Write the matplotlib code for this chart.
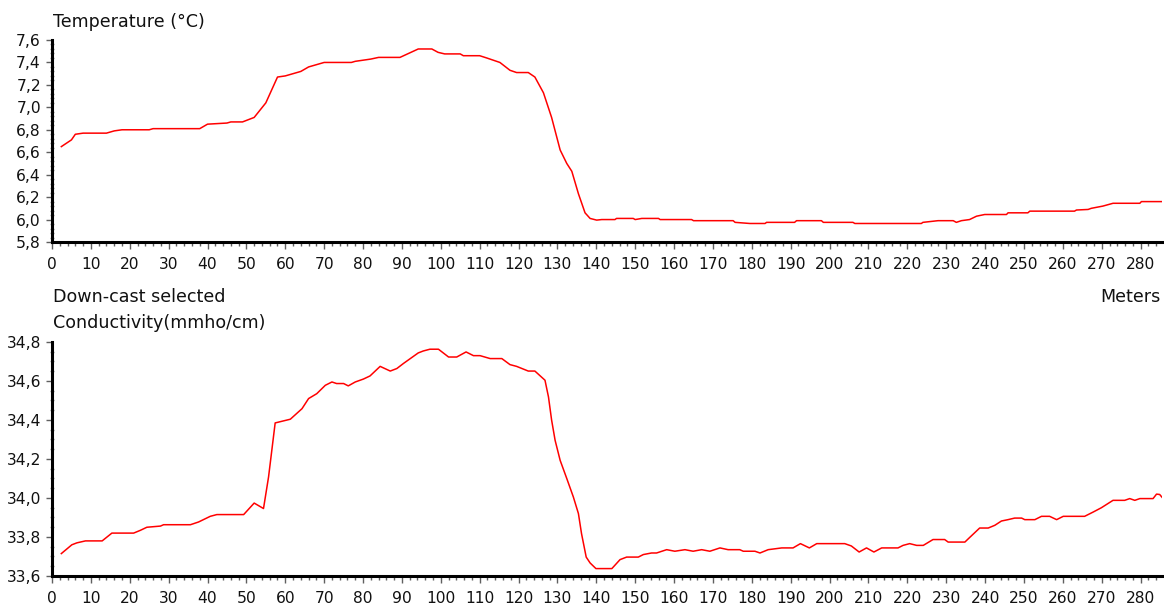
import matplotlib
matplotlib.use("Agg")
import matplotlib.pyplot as plt
from matplotlib.ticker import MultipleLocator, FuncFormatter

plt.rcParams['font.family'] = ['DejaVu Sans']

# ---- data ----
temp_depth = [2.4, 5, 6, 8, 14, 16, 18, 25, 26, 38, 40, 45, 46, 49, 52, 55, 58, 60, 62, 64,
              66, 68, 70, 77, 78, 80, 82, 84, 89.5, 94.2, 97.7, 99.3, 101, 105, 105.8, 110,
              111.8, 115.2, 117.8, 119.5, 122.5, 124.2, 126.4, 128.5, 130.7, 132.4, 133.7,
              135.4, 137.1, 138.4, 140.1, 141.4, 144.8, 145.2, 149.5, 150, 151.7, 156, 156.4,
              164.5, 165, 175.2, 175.7, 179.5, 183.4, 183.8, 191, 191.5, 197.9, 198.4, 206,
              206.5, 223.6, 224, 227.9, 231.8, 232.6, 233.9, 236, 237.8, 239.9, 245.5, 245.9,
              251, 251.5, 263, 263.5, 266.5, 267.3, 270.3, 272.9, 279.8, 280.2, 285.3]
temperature = [6.65, 6.71, 6.76, 6.77, 6.77, 6.79, 6.80, 6.80, 6.81, 6.81, 6.85, 6.86, 6.87,
               6.87, 6.91, 7.04, 7.27, 7.28, 7.30, 7.32, 7.36, 7.38, 7.40, 7.40, 7.41, 7.42,
               7.43, 7.445, 7.445, 7.52, 7.52, 7.49, 7.476, 7.476, 7.46, 7.46, 7.44, 7.40,
               7.33, 7.31, 7.31, 7.27, 7.13, 6.91, 6.62, 6.50, 6.43, 6.23, 6.06, 6.01, 5.995,
               6.00, 6.00, 6.01, 6.01, 6.00, 6.01, 6.01, 6.00, 6.00, 5.99, 5.99, 5.975, 5.965,
               5.965, 5.975, 5.975, 5.99, 5.99, 5.975, 5.975, 5.965, 5.965, 5.975, 5.99, 5.99,
               5.975, 5.99, 6.00, 6.03, 6.045, 6.045, 6.06, 6.06, 6.075, 6.075, 6.085, 6.09,
               6.10, 6.12, 6.145, 6.145, 6.16, 6.16]

cond_depth = [2.4, 5.1, 6.4, 8.6, 12.9, 15.4, 21, 22.7, 24.4, 27.9, 28.7, 35.6, 37.7, 40.7,
              42.4, 49.3, 52, 54.4, 55.7, 57.4, 59.5, 61.3, 64.3, 66, 68.1, 70.3, 72, 73.2,
              75, 76.2, 78, 80.1, 81.8, 84.4, 87, 88.7, 90.4, 92.5, 94.2, 95.5, 97.2, 99.4,
              102, 104.1, 106.5, 108.4, 110.1, 112.7, 115.7, 117.8, 119.5, 122.5, 124.2,
              126.8, 127.7, 128.5, 129.4, 130.7, 132.4, 134.1, 135.4, 136.2, 137.4, 138.4,
              139.9, 144, 146.1, 147.8, 150.8, 152.1, 154.2, 155.5, 158.1, 160.2, 162.8,
              164.9, 167.1, 169.2, 171.8, 173.9, 176.9, 177.8, 180.8, 182.1, 184.2, 187.7,
              190.6, 192.5, 194.8, 196.7, 203.9, 205.6, 207.6, 209.5, 211.4, 213.4, 217.6,
              218.9, 220.6, 222.4, 224.1, 226.6, 229.6, 230.5, 234.8, 236, 238.6, 240.8,
              242.5, 244.2, 245.9, 247.6, 249.4, 250.2, 252.8, 254.5, 256.6, 258.4, 260.1,
              265.6, 267.8, 269.9, 272.9, 275.9, 277.2, 278.5, 279.8, 283.2, 284.1, 284.9,
              285.8]
conductivity = [33.715, 33.76, 33.77, 33.78, 33.78, 33.82, 33.82, 33.834, 33.85, 33.856,
                33.863, 33.863, 33.877, 33.906, 33.915, 33.915, 33.974, 33.946, 34.108,
                34.385, 34.395, 34.404, 34.458, 34.51, 34.535, 34.578, 34.595, 34.587,
                34.587, 34.575, 34.595, 34.61, 34.626, 34.675, 34.651, 34.664, 34.69, 34.72,
                34.744, 34.754, 34.763, 34.763, 34.723, 34.723, 34.749, 34.73, 34.73,
                34.715, 34.715, 34.684, 34.675, 34.651, 34.651, 34.604, 34.518, 34.40,
                34.296, 34.193, 34.10, 34.005, 33.92, 33.817, 33.697, 33.667, 33.638,
                33.638, 33.684, 33.697, 33.697, 33.71, 33.718, 33.718, 33.735, 33.727,
                33.735, 33.727, 33.735, 33.727, 33.744, 33.735, 33.735, 33.727, 33.727,
                33.718, 33.735, 33.744, 33.744, 33.766, 33.744, 33.766, 33.766, 33.754,
                33.723, 33.744, 33.723, 33.744, 33.744, 33.757, 33.766, 33.757, 33.757,
                33.787, 33.787, 33.774, 33.774, 33.797, 33.846, 33.846, 33.86, 33.882,
                33.889, 33.897, 33.897, 33.889, 33.889, 33.906, 33.906, 33.889, 33.906,
                33.906, 33.928, 33.95, 33.988, 33.988, 33.997, 33.988, 33.997, 33.997,
                34.02, 34.018, 33.997]

x_major = 10
x_minor = 2

W, H = 1164, 608
FS_TICK = 11.2
FS_TEXT = 12.6
fig = plt.figure(figsize=(W / 100, H / 100), dpi=100)

def px_axes(left, top, right, bottom):
    return fig.add_axes([left / W, 1 - bottom / H, (right - left) / W, (bottom - top) / H])

ax1 = px_axes(52, 40, 1162, 242)
ax2 = px_axes(52, 342, 1162, 576)

comma = FuncFormatter(lambda v, p: f"{v:.1f}".replace('.', ','))

def style(ax, ylim, ymaj, ymin):
    ax.set_xlim(0, 285.5)
    ax.set_ylim(*ylim)
    for s in ('top', 'right'):
        ax.spines[s].set_visible(False)
    for s in ('left', 'bottom'):
        ax.spines[s].set_linewidth(2.2)
        ax.spines[s].set_color('black')
    ax.xaxis.set_major_locator(MultipleLocator(x_major))
    ax.xaxis.set_minor_locator(MultipleLocator(x_minor))
    ax.yaxis.set_major_locator(MultipleLocator(ymaj))
    ax.yaxis.set_minor_locator(MultipleLocator(ymin))
    ax.yaxis.set_major_formatter(comma)
    ax.tick_params(axis='x', which='major', length=5, width=1, color='#606060',
                   pad=6, labelsize=FS_TICK, labelcolor='#111111')
    ax.tick_params(axis='x', which='minor', length=3, width=1, color='#606060')
    ax.tick_params(axis='y', which='major', length=4, width=1, color='#606060',
                   pad=4, labelsize=FS_TICK, labelcolor='#111111')
    ax.tick_params(axis='y', which='minor', length=3, width=1, color='#909090',
                   direction='inout')

ax1.plot(temp_depth, temperature, color='#ff0000', lw=1.1)
style(ax1, (5.8, 7.6), 0.2, 0.04)
ax2.plot(cond_depth, conductivity, color='#ff0000', lw=1.1)
style(ax2, (33.6, 34.8), 0.2, 0.05)

fig.text(53 / W, 1 - 22 / H, "Temperature (°C)", fontsize=FS_TEXT, va='center', ha='left',
         color='#111111')
fig.text(53 / W, 1 - 297 / H, "Down-cast selected", fontsize=FS_TEXT, va='center', ha='left',
         color='#111111')
fig.text(53 / W, 1 - 323 / H, "Conductivity(mmho/cm)", fontsize=FS_TEXT, va='center', ha='left',
         color='#111111')
fig.text(1160 / W, 1 - 297 / H, "Meters", fontsize=FS_TEXT, va='center', ha='right',
         color='#111111')

fig.savefig("out.png", dpi=100)
